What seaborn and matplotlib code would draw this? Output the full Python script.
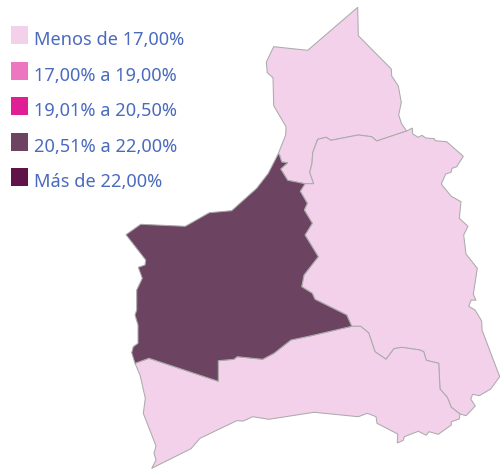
import matplotlib
matplotlib.use("Agg")
import matplotlib.pyplot as plt
import pandas as pd
import seaborn as sns

legend_labels = ["Menos de 17,00%", "17,00% a 19,00%", "19,01% a 20,50%", "20,51% a 22,00%", "Más de 22,00%"]
legend_colors = ["#F3D1EA", "#EC77C0", "#E01F94", "#6D4362", "#5F1349"]
text_color = "#4A6BBD"
edge_color = "#ABABAB"

north_region = [(357.7,7.3),(358.3,35.7),(391.3,69),(391.7,76),(398.3,86),(401.3,102.3),(398.7,115),(401.7,124),(406.7,131),
    (376.7,141),(371.7,136.7),(358.3,135),(331,140.3),(326,137.3),(317.7,139.3),(312.7,152.7),(312,163.3),(309.7,172.3),(313.7,183.7),
    (305,183.7),(287.7,180.3),(280.7,169),(287.7,162.7),(281.7,162),(279.3,154.3),(278,154.3),(285.7,135),(286,126.7),(273.7,105.7),
    (273,77.7),(267.3,72.7),(266.3,62),(273.7,46.7),(307.7,50.3)]

central_region = [(406.7,131),(412.3,128),(412.7,134),(418.3,137.3),(422,135.3),(425.7,138),(434.3,138.7),(435.3,140.7),(446.7,141.7),
    (463.3,156.3),(456.7,166.7),(452,168.3),(451,172.3),(445.7,174),(441.3,184),(451.3,196.3),(461,201.7),(459.3,218.3),(468,226.3),
    (463.7,235),(466,254),(477.3,268.3),(473.3,294.3),(476,300.3),(471.3,300),(468.7,306.3),(475,310),(481.7,321),(482,330),(499.7,376.7),
    (490.7,389),(479.3,395.7),(472.7,394.3),(470.7,399),(475.3,406),(466,415.7),(460,414),(451.3,407.3),(447.3,397.3),(440,389),
    (438.7,363.3),(426.3,360.3),(423.7,351.7),(420,350),(401.7,347.3),(394,348.7),(386,359.3),(375,351.7),(368.7,333),(360.7,326.3),
    (351.7,326.3),(346.7,315),(315,299.3),(312.3,293.3),(301.7,286.7),(304,275),(318.3,256.7),(305,235),(312.3,223.3),(304.3,210),
    (307.3,203.3),(300.3,191.3),(305,183.7),(313.7,183.7),(309.7,172.3),(312,163.3),(312.7,152.7),(317.7,139.3),(326,137.3),(331,140.3),
    (358.3,135),(371.7,136.7),(376.7,141)]

south_region = [(351.7,326.3),(360.7,326.3),(368.7,333),(375,351.7),(386,359.3),(394,348.7),(401.7,347.3),(420,350),(423.7,351.7),
    (426.3,360.3),(438.7,363.3),(440,389),(447.3,397.3),(451.3,407.3),(460,414),(459.3,419),(451.3,421.7),(451.3,425),(438.3,434.3),
    (429,431.7),(426.3,435.3),(418.3,431.3),(404.3,436.7),(403.3,440.3),(397.3,443),(397.7,434),(377,423.3),(376,416.7),(367.3,413.3),
    (358.3,416.7),(314,412.3),(269,419.3),(252.7,416.7),(243.3,421),(236.7,420.7),(200,438.3),(191,448.7),(151.7,468.3),(156,460),
    (154,453.3),(156,446),(143.3,413.3),(145.3,398.3),(140,375),(135,363.3),(149,358.3),(218.3,381.3),(218.3,360.7),(234,359.3),
    (237.3,356.7),(262.7,359.3),(274,353.3),(291,340),(310,336)]

west_region = [(278,154.3),(279.3,154.3),(281.7,162),(287.7,162.7),(280.7,169),(287.7,180.3),(305,183.7),(300.3,191.3),(307.3,203.3),
    (304.3,210),(312.3,223.3),(305,235),(318.3,256.7),(304,275),(301.7,286.7),(312.3,293.3),(315,299.3),(346.7,315),(351.7,326.3),
    (310,336),(291,340),(274,353.3),(262.7,359.3),(237.3,356.7),(234,359.3),(218.3,360.7),(218.3,381.3),(149,358.3),(135,363.3),
    (131.7,352.7),(133.3,346.7),(138,343.3),(138,325),(135,315),(136.7,310),(136.7,290),(142.3,278.3),(138.3,267.3),(145,265),
    (145.7,260),(126,234.7),(140.7,224.3),(185.3,226.3),(209.3,212.7),(231.7,210.7),(256.7,188.3),(268.3,173.3)]

regions = [(north_region, 0), (central_region, 0), (south_region, 0), (west_region, 3)]

sns.set_theme(style="white")
plt.rcParams["font.family"] = ["Noto Sans", "DejaVu Sans"]
palette = sns.color_palette(legend_colors)

fig = plt.figure(figsize=(5, 4.69), dpi=100)
ax = fig.add_axes([0, 0, 1, 1])

for outline, level in regions:
    xs, ys = zip(*outline)
    ax.fill(xs, ys, facecolor=palette[level], edgecolor=edge_color, linewidth=0.75, joinstyle="miter")

swatches = pd.DataFrame({"x": 19.5, "y": [35, 71, 106, 142, 177], "label": legend_labels})
sns.scatterplot(data=swatches, x="x", y="y", hue="label", palette=legend_colors, marker="s",
                s=165, linewidth=0, legend=False, ax=ax, clip_on=False)
ax.set_xlim(0, 500)
ax.set_ylim(469, 0)
ax.axis("off")

for _, row in swatches.iterrows():
    ax.text(34.5, row["y"] + 5, row["label"], color=text_color, fontsize=13.1, va="center", ha="left")

fig.savefig("out.png", dpi=100)
